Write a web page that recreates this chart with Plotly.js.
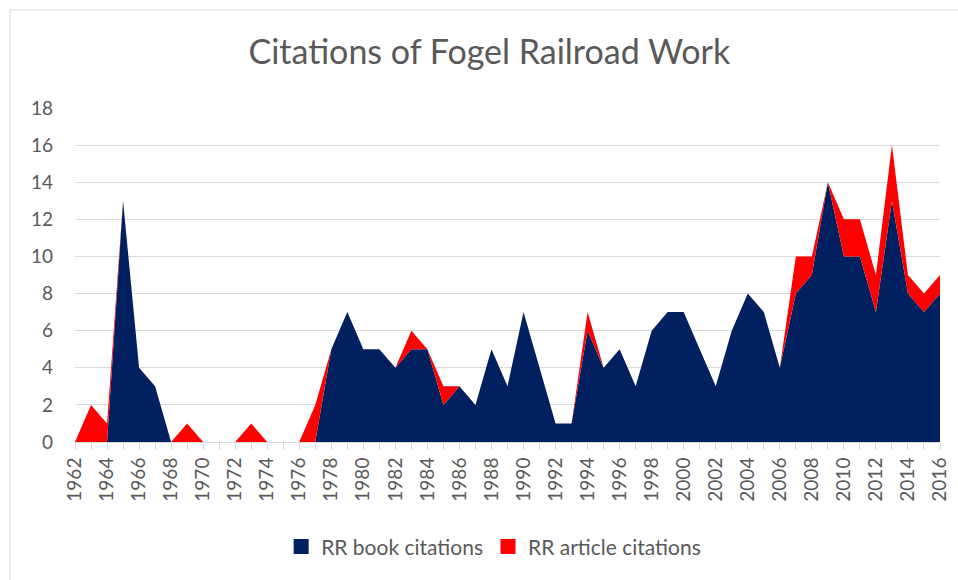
<!DOCTYPE html>
<html>
<head>
<meta charset="utf-8">
<script src="https://cdn.plot.ly/plotly-3.0.1.min.js"></script>
<style>html,body{margin:0;padding:0;background:#fff;}#chart{width:958px;height:580px;}</style>
</head>
<body>
<div id="chart"></div>
<script>
const years = [1962,1963,1964,1965,1966,1967,1968,1969,1970,1971,1972,1973,1974,1975,1976,1977,1978,1979,1980,1981,1982,1983,1984,1985,1986,1987,1988,1989,1990,1991,1992,1993,1994,1995,1996,1997,1998,1999,2000,2001,2002,2003,2004,2005,2006,2007,2008,2009,2010,2011,2012,2013,2014,2015,2016];
const bookCitations = [0,0,0,13,4,3,0,0,0,0,0,0,0,0,0,0,5,7,5,5,4,5,5,2,3,2,5,3,7,4,1,1,6,4,5,3,6,7,7,5,3,6,8,7,4,8,9,14,10,10,7,13,8,7,8];
const articleCitations = [0,2,1,0,0,0,0,1,0,0,0,1,0,0,0,2,0,0,0,0,0,1,0,1,0,0,0,0,0,0,0,0,1,0,0,0,0,0,0,0,0,0,0,0,0,2,1,0,2,2,2,3,1,1,1];
const seriesNames = ['RR book citations','RR article citations'];
const seriesColors = ['#002060','#FF0000'];
const tickText = years.map(y => (y % 2 === 0 ? String(y) : ''));

const font = 'Lato, "Open Sans", sans-serif';
const grey = '#595959';

const traces = [
  {x: years, y: bookCitations, name: seriesNames[0], type: 'scatter', mode: 'lines', stackgroup: 'one',
   line: {width: 0, color: seriesColors[0]}, fillcolor: seriesColors[0], showlegend: false, hoverinfo: 'skip'},
  {x: years, y: articleCitations, name: seriesNames[1], type: 'scatter', mode: 'lines', stackgroup: 'one',
   line: {width: 0, color: seriesColors[1]}, fillcolor: seriesColors[1], showlegend: false, hoverinfo: 'skip'},
  {x: [null], y: [null], name: seriesNames[0], type: 'scatter', mode: 'markers',
   marker: {symbol: 'square', size: 15, color: seriesColors[0]}},
  {x: [null], y: [null], name: seriesNames[1], type: 'scatter', mode: 'markers',
   marker: {symbol: 'square', size: 15, color: seriesColors[1]}}
];

const layout = {
  width: 958, height: 580,
  margin: {l: 75, r: 18, t: 108, b: 138},
  paper_bgcolor: '#fff', plot_bgcolor: '#fff',
  font: {family: font, color: grey},
  title: {text: 'Citations of Fogel Railroad Work', font: {family: font, size: 34, color: grey},
          xref: 'paper', x: 0.479, xanchor: 'center', yref: 'container', y: 0.91, yanchor: 'middle'},
  xaxis: {range: [1962, 2016], tickvals: years, ticktext: tickText, tickangle: -90,
          ticks: 'outside', ticklen: 7, tickcolor: '#d9d9d9', tickwidth: 1,
          showline: true, linecolor: '#d9d9d9', linewidth: 1, showgrid: false, zeroline: false,
          tickfont: {family: font, size: 19, color: grey}, fixedrange: true},
  yaxis: {range: [0, 18], dtick: 2, showgrid: true, gridcolor: '#d9d9d9', gridwidth: 1,
          zeroline: false, showline: false, ticks: '', ticklabelstandoff: 21,
          tickfont: {family: font, size: 19, color: grey}, fixedrange: true},
  legend: {orientation: 'h', traceorder: 'normal', x: 0.484, xanchor: 'center', y: -0.314, yanchor: 'middle',
           font: {family: font, size: 21, color: grey}, itemwidth: 30, tracegroupgap: 0},
  shapes: [{type: 'rect', xref: 'paper', yref: 'paper',
            x0: (10 - 75) / 865, x1: (970 - 75) / 865, y0: (442 - 590) / 334, y1: (442 - 10) / 334,
            line: {color: '#d9d9d9', width: 1}, fillcolor: 'rgba(0,0,0,0)', layer: 'below'}],
  showlegend: true
};

Plotly.newPlot('chart', traces, layout, {displayModeBar: false, staticPlot: true});
</script>
</body>
</html>
